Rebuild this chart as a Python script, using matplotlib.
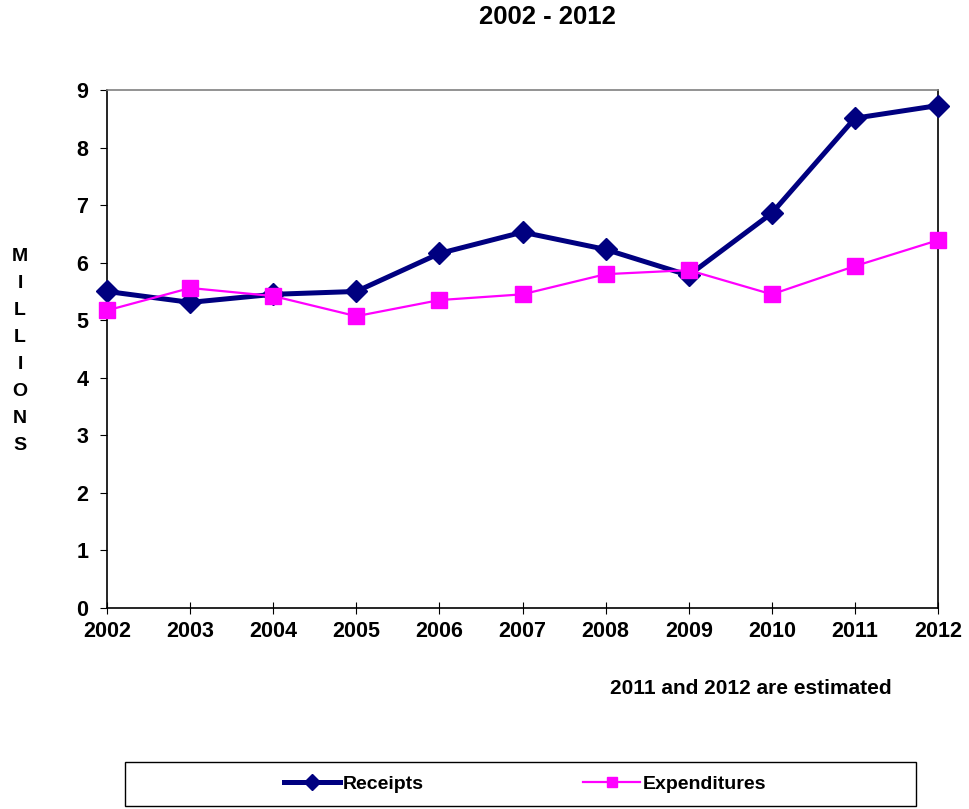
import matplotlib.pyplot as plt
from matplotlib.patches import Rectangle

plt.rcParams['font.family'] = ['Liberation Sans', 'DejaVu Sans']
plt.rcParams['font.weight'] = 'bold'

years = [2002, 2003, 2004, 2005, 2006, 2007, 2008, 2009, 2010, 2011, 2012]
receipts = [5.50, 5.31, 5.45, 5.50, 6.16, 6.53, 6.23, 5.78, 6.86, 8.51, 8.73]
expenditures = [5.17, 5.56, 5.42, 5.07, 5.35, 5.45, 5.80, 5.87, 5.45, 5.94, 6.39]

fig = plt.figure(figsize=(9.69, 8.09), dpi=100)
ax = fig.add_axes([107 / 969, 1 - 608 / 809, 831 / 969, 518 / 809])

ax.plot(years, receipts, color='#000080', linewidth=3.6, marker='D',
        markersize=11, label='Receipts', clip_on=False, zorder=3)
ax.plot(years, expenditures, color='#FF00FF', linewidth=1.6, marker='s',
        markersize=11, label='Expenditures', clip_on=False, zorder=4)

ax.set_xlim(2002, 2012)
ax.set_ylim(0, 9)
ax.set_xticks(years)
ax.set_yticks(range(0, 10))
ax.tick_params(axis='x', direction='inout', length=9, labelsize=15.5, pad=5)
ax.tick_params(axis='y', direction='out', length=5, labelsize=15.5, pad=8.5)
for lab in ax.get_xticklabels() + ax.get_yticklabels():
    lab.set_fontweight('bold')

ax.spines['top'].set_color('#808080')
ax.spines['right'].set_color('black')
for s in ax.spines.values():
    s.set_linewidth(1.2)

fig.text(547 / 969, 1 - 17 / 809, '2002 - 2012', ha='center', va='center',
         fontsize=18.5, fontweight='bold')
fig.text(20 / 969, 1 - 351 / 809, '\n'.join('MILLIONS'), ha='center',
         va='center', fontsize=14, fontweight='bold', linespacing=1.76)
fig.text(751 / 969, 1 - 688 / 809, '2011 and 2012 are estimated',
         ha='center', va='center', fontsize=15, fontweight='bold')

fig.patches.append(Rectangle((125 / 969, 1 - 806 / 809), 791 / 969, 44 / 809,
                             transform=fig.transFigure, fill=False,
                             edgecolor='black', linewidth=1.0))
leg = fig.legend(loc='center', bbox_to_anchor=(525 / 969, 1 - 784 / 809),
                 ncol=2, frameon=False, fontsize=14, handlelength=2.9,
                 columnspacing=8.2, handletextpad=0.15, markerscale=0.7)
for t in leg.get_texts():
    t.set_fontweight('bold')

fig.savefig('out.png', dpi=100)
